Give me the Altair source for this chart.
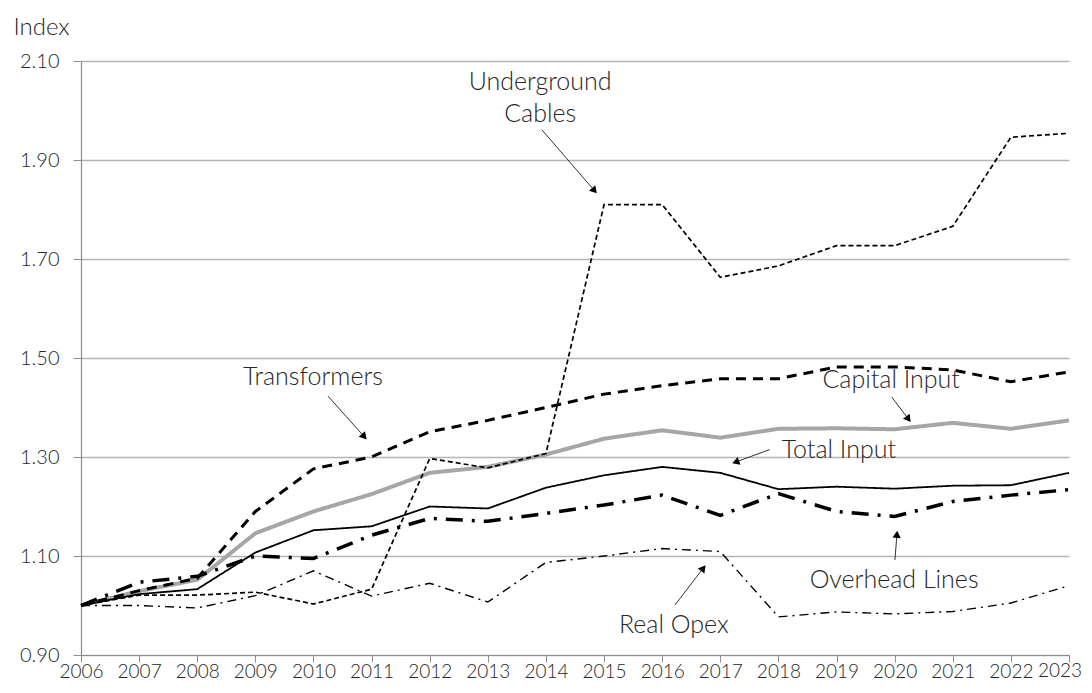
import math
import altair as alt
import pandas as pd

years = list(range(2006, 2024))
transformers = [1.00, 1.03, 1.055, 1.19, 1.276, 1.30, 1.351, 1.374, 1.40, 1.427, 1.444, 1.458, 1.458, 1.482, 1.482, 1.476, 1.452, 1.472]
capital_input = [1.00, 1.029, 1.052, 1.146, 1.19, 1.225, 1.268, 1.28, 1.305, 1.337, 1.354, 1.339, 1.357, 1.358, 1.356, 1.369, 1.357, 1.374]
total_input = [1.00, 1.023, 1.033, 1.107, 1.152, 1.16, 1.20, 1.196, 1.238, 1.263, 1.28, 1.268, 1.235, 1.24, 1.236, 1.242, 1.243, 1.268]
overhead_lines = [1.00, 1.047, 1.059, 1.10, 1.095, 1.142, 1.176, 1.17, 1.186, 1.203, 1.223, 1.182, 1.226, 1.19, 1.18, 1.21, 1.223, 1.234]
real_opex = [1.00, 1.00, 0.995, 1.02, 1.07, 1.019, 1.045, 1.007, 1.087, 1.10, 1.115, 1.109, 0.977, 0.987, 0.983, 0.988, 1.005, 1.04]
underground_cables = [1.00, 1.021, 1.021, 1.027, 1.003, 1.033, 1.297, 1.278, 1.307, 1.81, 1.81, 1.663, 1.686, 1.727, 1.727, 1.766, 1.946, 1.954]

y_ticks = [0.90, 1.10, 1.30, 1.50, 1.70, 1.90, 2.10]
last_year_label = ["2023"]

# annotation labels (year, index)
label_text = ["Underground", "Cables", "Transformers", "Capital Input", "Total Input", "Overhead Lines", "Real Opex"]
label_x = [2013.90, 2013.90, 2009.99, 2019.94, 2019.04, 2019.99, 2016.20]
label_y = [2.058, 1.993, 1.462, 1.456, 1.315, 1.051, 0.960]

# arrows: start -> tip
arrow_x1 = [2013.93, 2010.25, 2019.95, 2017.85, 2020.005, 2016.22]
arrow_y1 = [1.961, 1.423, 1.421, 1.315, 1.092, 1.001]
arrow_x2 = [2014.88, 2010.92, 2020.28, 2017.20, 2020.045, 2016.75]
arrow_y2 = [1.832, 1.335, 1.370, 1.287, 1.152, 1.082]

W, H = 988, 594
X0, X1 = 2006, 2023
Y0, Y1 = 0.90, 2.10
kx = W / (X1 - X0)
ky = H / (Y1 - Y0)
TICK = 7

series = [
    ("Capital Input", capital_input, "#a6a6a6", 4.0, [1, 0]),
    ("Underground Cables", underground_cables, "#000000", 1.7, [5, 3]),
    ("Real Opex", real_opex, "#000000", 1.4, [9, 5, 2, 5]),
    ("Total Input", total_input, "#000000", 1.8, [1, 0]),
    ("Transformers", transformers, "#000000", 3.0, [10, 7]),
    ("Overhead Lines", overhead_lines, "#000000", 3.5, [17, 9, 3, 9]),
]

rows = []
for name, vals, *_ in series:
    for yr, v in zip(years, vals):
        rows.append({"year": yr, "value": v, "series": name})
df = pd.DataFrame(rows)

xscale = alt.Scale(domain=[X0, X1], nice=False, zero=False)
yscale = alt.Scale(domain=[Y0, Y1], nice=False, zero=False)

font = "Lato"
txt_color = "#262626"

x_axis = alt.Axis(values=years, format="d", grid=False, tickSize=TICK, tickColor="#8c8c8c",
                  domainColor="#8c8c8c", domainWidth=1.2, labelFontSize=19, labelFont=font,
                  labelColor=txt_color, labelPadding=0, title=None, labelFontWeight=300,
                  labelOverlap=False, labelBound=False, labelFlush=False,
                  labelExpr="datum.value == 2023 ? '' : datum.label")
y_axis = alt.Axis(values=y_ticks, format=".2f", grid=True, gridColor="#b5b5b5", gridWidth=1.5,
                  tickSize=8, tickColor="#8c8c8c", domainColor="#8c8c8c", domainWidth=1.2,
                  labelFontSize=20, labelFont=font, labelColor=txt_color, labelPadding=14,
                  labelFontWeight=300, labelOverlap=False, labelFlush=False,
                  title="Index", titleAngle=0, titleX=-68, titleY=-34, titleAlign="left",
                  titleBaseline="middle", titleFontSize=24, titleFont=font,
                  titleFontWeight=300, titleColor=txt_color)


def X(field):
    return alt.X(field, scale=xscale, axis=x_axis)


def Y(field):
    return alt.Y(field, scale=yscale, axis=y_axis)


layers = []
for name, vals, color, width, dash in series:
    layers.append(
        alt.Chart(df).transform_filter(alt.datum.series == name)
        .mark_line(color=color, strokeWidth=width, strokeDash=dash, strokeCap="butt", strokeJoin="miter")
        .encode(x=X("year:Q"), y=Y("value:Q"))
    )

labels_df = pd.DataFrame({"x": label_x, "y": label_y, "t": label_text})
labels = alt.Chart(labels_df).mark_text(font=font, fontSize=25, fontWeight=300, color=txt_color,
                                        align="center", baseline="middle").encode(
    x=X("x:Q"), y=Y("y:Q"), text="t:N")

# last x label drawn separately, nudged left so it stays inside the page
last_df = pd.DataFrame({"x": [X1], "y": [Y0], "t": last_year_label})
last_label = alt.Chart(last_df).mark_text(font=font, fontSize=19, fontWeight=300, color=txt_color,
                                          align="center", baseline="top", dy=TICK, dx=-9).encode(
    x=X("x:Q"), y=Y("y:Q"), text="t:N")

arr_rows = []
for xa, ya, xb, yb in zip(arrow_x1, arrow_y1, arrow_x2, arrow_y2):
    dx = (xb - xa) * kx
    dy = -(yb - ya) * ky
    L = math.hypot(dx, dy)
    ux, uy = dx / L, dy / L
    ang = math.degrees(math.atan2(dx, -dy)) % 360
    back = 4.0
    arr_rows.append({"x1": xa, "y1": ya,
                     "x2": xb - ux * back / kx, "y2": yb + uy * back / ky,
                     "hx": xb - ux * back / kx, "hy": yb + uy * back / ky,
                     "angle": ang})
arr_df = pd.DataFrame(arr_rows)

arrow_lines = alt.Chart(arr_df).mark_rule(color="#333333", strokeWidth=1).encode(
    x=X("x1:Q"), y=Y("y1:Q"), x2="x2:Q", y2="y2:Q")

arrow_heads = alt.Chart(arr_df).mark_point(shape="triangle-up", filled=True, color="#000000",
                                           size=70, opacity=1).encode(
    x=X("hx:Q"), y=Y("hy:Q"), angle=alt.Angle("angle:Q", scale=None))

chart = alt.layer(*layers, arrow_lines, arrow_heads, labels, last_label).properties(
    width=W, height=H,
    autosize=alt.AutoSizeParams(type="none"),
    padding={"left": 73, "top": 53, "right": 15, "bottom": 25},
    background="white",
).configure_view(strokeWidth=0)

chart.save("out.html", embed_options={"renderer": "svg", "actions": False})
